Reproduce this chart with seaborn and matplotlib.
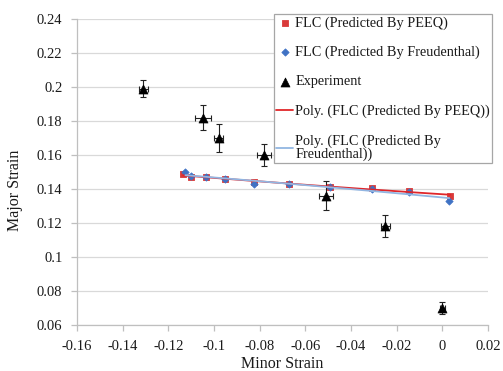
import numpy as np
import pandas as pd
import matplotlib
matplotlib.use("Agg")
import matplotlib.pyplot as plt
import seaborn as sns

# ---- data ----
x_peeq = [-0.1135, -0.110, -0.1035, -0.095, -0.0825, -0.067, -0.049, -0.031, -0.0145, 0.0035]
y_peeq = [0.1488, 0.1471, 0.1471, 0.1459, 0.1441, 0.1429, 0.1412, 0.1406, 0.1388, 0.1359]

x_freud = [-0.1125, -0.110, -0.1035, -0.095, -0.0825, -0.067, -0.049, -0.031, -0.0145, 0.003]
y_freud = [0.1500, 0.1475, 0.1468, 0.1458, 0.1428, 0.1432, 0.1410, 0.1400, 0.1385, 0.1330]

x_exp = [-0.131, -0.105, -0.098, -0.078, -0.051, -0.025, 0.0]
y_exp = [0.199, 0.182, 0.170, 0.160, 0.136, 0.118, 0.070]
xerr_exp = [0.002, 0.0035, 0.002, 0.003, 0.003, 0.002, 0.001]
yerr_exp = [0.005, 0.0075, 0.0085, 0.0065, 0.0085, 0.0065, 0.0035]

x_ticks = [-0.16, -0.14, -0.12, -0.1, -0.08, -0.06, -0.04, -0.02, 0, 0.02]
x_ticklabels = ["-0.16", "-0.14", "-0.12", "-0.1", "-0.08", "-0.06", "-0.04", "-0.02", "0", "0.02"]
y_ticks = [0.06, 0.08, 0.1, 0.12, 0.14, 0.16, 0.18, 0.2, 0.22, 0.24]
y_ticklabels = ["0.06", "0.08", "0.1", "0.12", "0.14", "0.16", "0.18", "0.2", "0.22", "0.24"]

labels = ["FLC (Predicted By PEEQ)", "FLC (Predicted By Freudenthal)", "Experiment",
          "Poly. (FLC (Predicted By PEEQ))", "Poly. (FLC (Predicted By\nFreudenthal))"]

RED = "#D93A3A"
BLUE = "#3F72C4"
RED_LINE = "#E0262A"
BLUE_LINE = "#92B6E2"

sns.set_style("white")
plt.rcParams["font.family"] = ["Liberation Serif", "DejaVu Serif"]

fig = plt.figure(figsize=(5.03, 3.71), dpi=100)
ax = fig.add_axes([77/503, 1-325/371, (488-77)/503, (325-19)/371])

df_p = pd.DataFrame({"x": x_peeq, "y": y_peeq})
df_f = pd.DataFrame({"x": x_freud, "y": y_freud})
df_e = pd.DataFrame({"x": x_exp, "y": y_exp})

ax.errorbar(x_exp, y_exp, xerr=xerr_exp, yerr=yerr_exp, fmt="none",
            ecolor="#222222", elinewidth=0.8, capsize=2, capthick=0.8, zorder=2)

sns.scatterplot(data=df_p, x="x", y="y", ax=ax, marker="s", s=20, color=RED,
                edgecolor=RED, linewidth=0.6, label=labels[0], zorder=3)
sns.scatterplot(data=df_f, x="x", y="y", ax=ax, marker="D", s=14, color=BLUE,
                edgecolor=BLUE, linewidth=0.5, label=labels[1], zorder=3)
sns.scatterplot(data=df_e, x="x", y="y", ax=ax, marker="^", s=42, color="black",
                edgecolor="black", linewidth=0.5, label=labels[2], zorder=4)

cp = np.polyfit(x_peeq, y_peeq, 2)
cf = np.polyfit(x_freud, y_freud, 2)
gp = np.linspace(min(x_peeq), max(x_peeq), 60)
gf = np.linspace(min(x_freud), max(x_freud), 60)
sns.lineplot(x=gp, y=np.polyval(cp, gp), ax=ax, color=RED_LINE, linewidth=1.3,
             label=labels[3], zorder=5)
sns.lineplot(x=gf, y=np.polyval(cf, gf), ax=ax, color=BLUE_LINE, linewidth=1.3,
             label=labels[4], zorder=5)

ax.set_xlim(-0.16, 0.02)
ax.set_ylim(0.06, 0.24)
ax.set_xticks(x_ticks)
ax.set_xticklabels(x_ticklabels)
ax.set_yticks(y_ticks)
ax.set_yticklabels(y_ticklabels)

ax.grid(axis="y", color="#D9D9D9", linewidth=0.9)
ax.grid(axis="x", visible=False)
ax.set_axisbelow(True)
for s in ["top", "right"]:
    ax.spines[s].set_visible(False)
for s in ["left", "bottom"]:
    ax.spines[s].set_color("#BFBFBF")
    ax.spines[s].set_linewidth(0.9)
ax.tick_params(axis="both", which="major", direction="out", length=4, width=0.9,
               color="#BFBFBF", labelsize=10.5, labelcolor="#1a1a1a", left=True, bottom=True)
ax.tick_params(axis="x", pad=6.5)
ax.tick_params(axis="y", pad=6.5)

ax.set_xlabel("Minor Strain", fontsize=11.5, color="#1a1a1a", labelpad=2.5)
ax.set_ylabel("Major Strain", fontsize=11.5, color="#1a1a1a")
ax.yaxis.set_label_coords(-0.131, 0.44)

handles, labs = ax.get_legend_handles_labels()
leg = ax.legend(handles, labs, loc="upper left", bbox_to_anchor=(274/503, 1-14/371),
                bbox_transform=fig.transFigure, frameon=True, fancybox=False,
                edgecolor="#A6A6A6", fontsize=10.3, handlelength=1.2, handletextpad=0.15,
                borderpad=0.15, labelspacing=1.13, borderaxespad=0, framealpha=1)
leg.get_frame().set_linewidth(0.9)
for t in leg.get_texts():
    t.set_linespacing(1.0)
    t.set_color("#1a1a1a")

fig.savefig("out.png", dpi=100)
